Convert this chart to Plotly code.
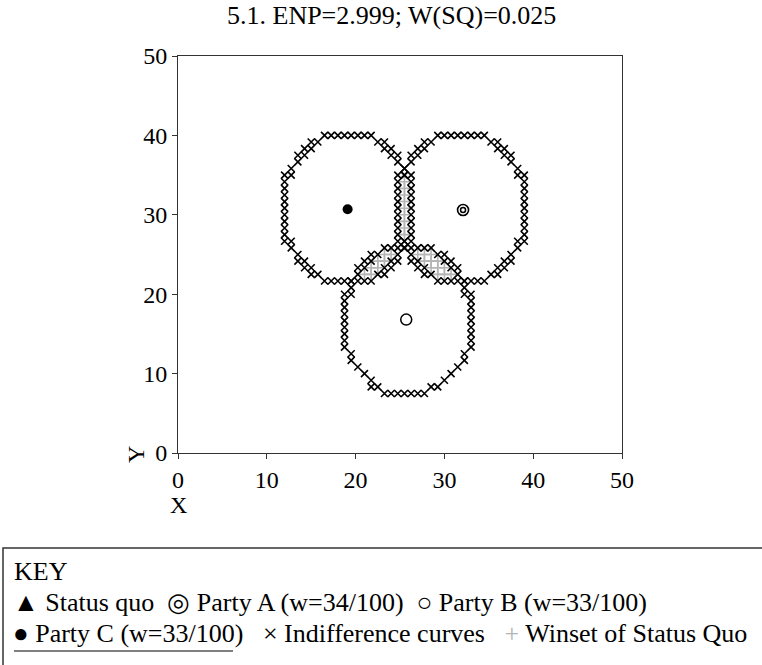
import plotly.graph_objects as go

TITLE = "5.1. ENP=2.999; W(SQ)=0.025"
X_TICKS = [0, 10, 20, 30, 40, 50]
Y_TICKS = [0, 10, 20, 30, 40, 50]

# size of one cell of the lattice the curves are drawn on (axis units)
CELL_X = 0.75
CELL_Y = 50 / 60

# Party ideal points
party_a = (32.1, 30.6)
party_b = (25.7, 16.8)
party_c = (19.1, 30.7)

# Indifference curves, as (lattice row, [lattice columns]) read row by row
curve_c_rows = [
    (48, [22, 23, 24, 25, 26, 27, 28, 29]),
    (47, [20, 21, 30, 31]),
    (46, [19, 20, 31, 32]),
    (45, [18, 19, 32, 33]),
    (44, [18, 33]),
    (43, [17, 34]),
    (42, [16, 17, 34, 35]),
    (41, [16, 35]), (40, [16, 35]), (39, [16, 35]), (38, [16, 35]),
    (37, [16, 35]), (36, [16, 35]), (35, [16, 35]), (34, [16, 35]),
    (33, [16, 35]),
    (32, [16, 17, 34, 35]),
    (31, [17, 34]),
    (30, [18, 33]),
    (29, [18, 19, 32, 33]),
    (28, [19, 20, 31, 32]),
    (27, [20, 21, 30, 31]),
    (26, [22, 23, 24, 25, 26, 27, 28, 29]),
]

curve_a_rows = [
    (48, [39, 40, 41, 42, 43, 44, 45, 46]),
    (47, [37, 38, 47, 48]),
    (46, [36, 37, 48, 49]),
    (45, [35, 36, 49, 50]),
    (44, [35, 50]),
    (43, [34, 51]),
    (42, [33, 34, 51, 52]),
    (41, [33, 52]), (40, [33, 52]), (39, [33, 52]), (38, [33, 52]),
    (37, [33, 52]), (36, [33, 52]), (35, [33, 52]), (34, [33, 52]),
    (33, [33, 52]),
    (32, [33, 34, 51, 52]),
    (31, [34, 51]),
    (30, [35, 50]),
    (29, [35, 36, 49, 50]),
    (28, [36, 37, 48, 49]),
    (27, [37, 38, 47, 48]),
    (26, [39, 40, 41, 42, 43, 44, 45, 46]),
]

curve_b_rows = [
    (31, [31, 32, 33, 34, 35, 36, 37, 38]),
    (30, [29, 30, 39, 40]),
    (29, [28, 29, 40, 41]),
    (28, [27, 28, 41, 42]),
    (27, [27, 42]),
    (26, [26, 43]),
    (25, [26, 43]),
    (24, [25, 26, 43, 44]),
    (23, [25, 44]), (22, [25, 44]), (21, [25, 44]), (20, [25, 44]),
    (19, [25, 44]), (18, [25, 44]), (17, [25, 44]), (16, [25, 44]),
    (15, [26, 43]),
    (14, [26, 43]),
    (13, [27, 42]),
    (12, [28, 41]),
    (11, [29, 40]),
    (10, [29, 30, 38, 39]),
    (9, [31, 32, 33, 34, 35, 36, 37]),
]

# Winset of the status quo (lattice points inside two curves)
winset_rows = [
    (41, [34]), (40, [34]), (39, [34]), (38, [34]), (37, [34]),
    (36, [34]), (35, [34]), (34, [34]), (33, [34]),
    (30, [31, 32, 36, 37, 38]),
    (29, [30, 31, 37, 38, 39]),
    (28, [29, 30, 38, 39, 40]),
    (27, [28, 29, 39, 40, 41]),
]


def lattice_points(rows):
    xs, ys = [], []
    for r, cols in rows:
        for c in cols:
            xs.append(c * CELL_X)
            ys.append(r * CELL_Y)
    return xs, ys


FONT = "Liberation Serif"
AX = "#333333"
GRAY = "#b4b4b4"

fig = go.Figure()

wx, wy = lattice_points(winset_rows)
fig.add_trace(go.Scatter(
    x=wx, y=wy, mode="markers", hoverinfo="skip",
    marker=dict(symbol="cross-thin", size=8, color=GRAY,
                line=dict(width=1.6, color=GRAY))))

for rows in (curve_c_rows, curve_a_rows, curve_b_rows):
    cx, cy = lattice_points(rows)
    fig.add_trace(go.Scatter(
        x=cx, y=cy, mode="markers", hoverinfo="skip",
        marker=dict(symbol="x-thin", size=7, color="black",
                    line=dict(width=1.6, color="black"))))

# Party C: filled dot
fig.add_trace(go.Scatter(x=[party_c[0]], y=[party_c[1]], mode="markers",
                         marker=dict(symbol="circle", size=10, color="black")))
# Party A: double ring
fig.add_trace(go.Scatter(x=[party_a[0]], y=[party_a[1]], mode="markers",
                         marker=dict(symbol="circle-open", size=11, color="black",
                                     line=dict(width=1.6, color="black"))))
fig.add_trace(go.Scatter(x=[party_a[0]], y=[party_a[1]], mode="markers",
                         marker=dict(symbol="circle-open", size=5, color="black",
                                     line=dict(width=1.5, color="black"))))
# Party B: open ring
fig.add_trace(go.Scatter(x=[party_b[0]], y=[party_b[1]], mode="markers",
                         marker=dict(symbol="circle-open", size=11, color="black",
                                     line=dict(width=1.5, color="black"))))

W, H = 762, 665
# plot area in page pixels
PX0, PX1, PY0, PY1 = 178, 622, 56, 453
L, R, T, B = PX0, W - PX1, PY0, H - PY1
PW, PH = PX1 - PX0, PY1 - PY0


def px(x):
    return (x - PX0) / PW


def py(y):
    return (PY1 - y) / PH


axis_common = dict(range=[0, 50], tickvals=X_TICKS, ticks="outside", ticklen=5,
                   tickwidth=1, tickcolor=AX, showline=True, linecolor=AX,
                   linewidth=1, mirror=True, showgrid=False, zeroline=False,
                   tickfont=dict(family=FONT, size=24, color="black"))

fig.update_layout(
    width=W, height=H,
    margin=dict(l=L, r=R, t=T, b=B, autoexpand=False),
    paper_bgcolor="white", plot_bgcolor="white",
    showlegend=False,
    font=dict(family=FONT, size=24, color="black"),
    xaxis=dict(axis_common),
    yaxis=dict(axis_common, tickvals=Y_TICKS),
)

ann = []
ann.append(dict(text=TITLE, x=px(391), y=py(16), xref="paper", yref="paper",
                showarrow=False, xanchor="center", yanchor="middle",
                font=dict(family=FONT, size=26)))
ann.append(dict(text="Y", x=px(136), y=py(455), xref="paper", yref="paper",
                showarrow=False, xanchor="center", yanchor="middle", textangle=-90,
                font=dict(family=FONT, size=24)))
ann.append(dict(text="X", x=px(178), y=py(505), xref="paper", yref="paper",
                showarrow=False, xanchor="center", yanchor="middle",
                font=dict(family=FONT, size=24)))

KEY_FONT = dict(family=FONT, size=26, color="black")
ann.append(dict(text="KEY", x=px(12), y=py(571), xref="paper", yref="paper",
                showarrow=False, xanchor="left", yanchor="middle", font=KEY_FONT))
ann.append(dict(text="▲ Status quo  ◎ Party A (w=34/100)  ○ Party B (w=33/100)",
                x=px(11), y=py(602), xref="paper", yref="paper",
                showarrow=False, xanchor="left", yanchor="middle", font=KEY_FONT))
ann.append(dict(text="● Party C (w=33/100)   × Indifference curves   "
                     "<span style='color:#b4b4b4'>+</span> Winset of Status Quo",
                x=px(11), y=py(633), xref="paper", yref="paper",
                showarrow=False, xanchor="left", yanchor="middle", font=KEY_FONT))
fig.update_layout(annotations=ann)

fig.update_layout(shapes=[
    dict(type="rect", xref="paper", yref="paper",
         x0=px(3), x1=px(820), y0=py(548), y1=py(760),
         line=dict(color=AX, width=1.5), fillcolor="rgba(0,0,0,0)"),
    dict(type="line", xref="paper", yref="paper",
         x0=px(14), x1=px(233), y0=py(651), y1=py(651),
         line=dict(color="black", width=1)),
])

fig.write_html(
    "out.html",
    config={"displayModeBar": False},
    post_script="document.body.style.margin='0';"
                "document.body.style.overflow='hidden';",
)
